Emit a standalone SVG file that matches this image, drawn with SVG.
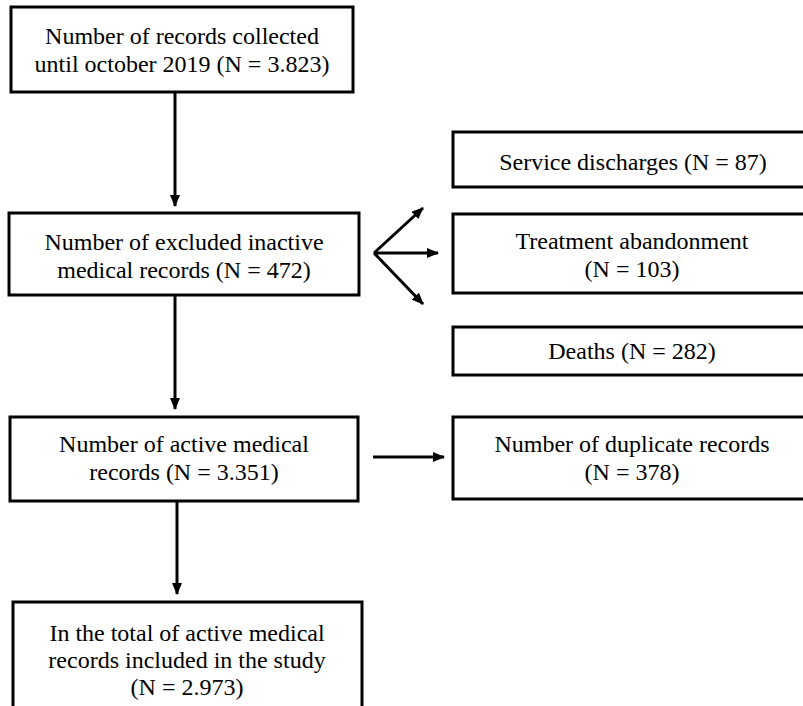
<svg xmlns="http://www.w3.org/2000/svg" width="803" height="706" viewBox="0 0 803 706">
<style>
.box{fill:#fff;stroke:#000;stroke-width:3}
.t{font-size:24px;fill:#000;text-anchor:middle}
.c{stroke:#000;stroke-width:3;fill:none}
</style>
<defs>
<marker id="ah" markerWidth="12" markerHeight="10" refX="11" refY="5" orient="auto" markerUnits="userSpaceOnUse">
<path d="M0,0 L12,5 L0,10 Z" fill="#000"/>
</marker>
</defs>
<rect width="803" height="706" fill="#fff"/>
<g font-family="Liberation Serif">
<g id="n1">
<rect class="box" x="11" y="7" width="342" height="85"/>
<text class="t" x="182" y="44">Number of records collected</text>
<text class="t" x="182" y="72">until october 2019 (N = 3.823)</text>
</g>
<g id="n2">
<rect class="box" x="9" y="213" width="350" height="82"/>
<text class="t" x="184" y="250">Number of excluded inactive</text>
<text class="t" x="184" y="278">medical records (N = 472)</text>
</g>
<g id="n3">
<rect class="box" x="453" y="132" width="360" height="55"/>
<text class="t" x="633" y="170">Service discharges (N = 87)</text>
</g>
<g id="n4">
<rect class="box" x="453" y="214" width="360" height="79"/>
<text class="t" x="632" y="249">Treatment abandonment</text>
<text class="t" x="632" y="277">(N = 103)</text>
</g>
<g id="n5">
<rect class="box" x="453" y="327" width="360" height="48"/>
<text class="t" x="632" y="359">Deaths (N = 282)</text>
</g>
<g id="n6">
<rect class="box" x="10" y="417" width="348" height="84"/>
<text class="t" x="184" y="452">Number of active medical</text>
<text class="t" x="184" y="480">records (N = 3.351)</text>
</g>
<g id="n7">
<rect class="box" x="453" y="417" width="360" height="82"/>
<text class="t" x="632" y="452">Number of duplicate records</text>
<text class="t" x="632" y="480">(N = 378)</text>
</g>
<g id="n8">
<rect class="box" x="13" y="602" width="349" height="120"/>
<text class="t" x="187" y="641">In the total of active medical</text>
<text class="t" x="187" y="668">records included in the study</text>
<text class="t" x="187" y="695">(N = 2.973)</text>
</g>
</g>
<g id="connectors">
<line class="c" x1="175" y1="92" x2="175" y2="206" marker-end="url(#ah)"/>
<line class="c" x1="175" y1="295" x2="175" y2="409" marker-end="url(#ah)"/>
<line class="c" x1="177" y1="501" x2="177" y2="594" marker-end="url(#ah)"/>
<line class="c" x1="373" y1="457" x2="444" y2="457" marker-end="url(#ah)"/>
<line class="c" x1="374" y1="253" x2="423" y2="208" marker-end="url(#ah)"/>
<line class="c" x1="374" y1="253" x2="438" y2="253" marker-end="url(#ah)"/>
<line class="c" x1="374" y1="253" x2="423" y2="304" marker-end="url(#ah)"/>
</g>
</svg>
